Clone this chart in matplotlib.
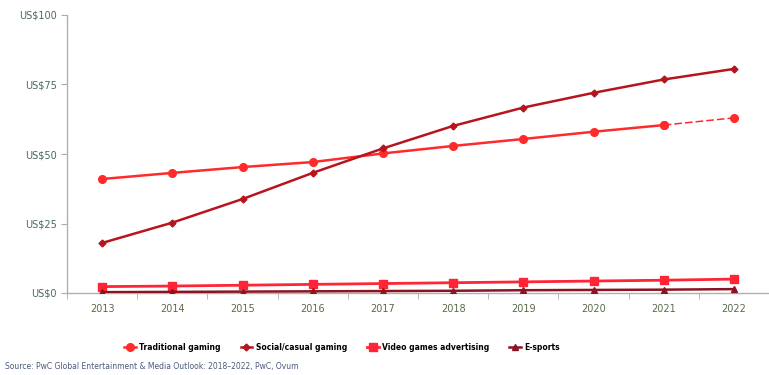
import matplotlib
matplotlib.use("Agg")
import matplotlib.pyplot as plt
import numpy as np

years = ["2013", "2014", "2015", "2016", "2017", "2018", "2019", "2020", "2021", "2022"]
traditional = [41.0, 43.2, 45.3, 47.1, 50.2, 52.9, 55.4, 58.0, 60.4, 63.0]
social_casual = [18.0, 25.3, 33.8, 43.2, 52.0, 60.1, 66.7, 72.0, 76.8, 80.6]
video_ads = [2.3, 2.5, 2.8, 3.1, 3.4, 3.7, 4.0, 4.3, 4.6, 5.0]
esports = [0.3, 0.4, 0.5, 0.6, 0.7, 0.8, 1.0, 1.1, 1.2, 1.4]
y_ticks = [0, 25, 50, 75, 100]
y_labels = ["US$0", "US$25", "US$50", "US$75", "US$100"]
series_names = ["Traditional gaming", "Social/casual gaming", "Video games advertising", "E-sports"]
source = "Source: PwC Global Entertainment & Media Outlook: 2018\u20132022, PwC, Ovum"

fig = plt.figure(figsize=(7.69, 3.75), dpi=100)
ax = fig.add_axes([67/769, 82/375, 1 - 67/769, 278/375])
x = np.arange(len(years))

c_trad = "#ff2a2a"
c_soc = "#b8141e"
c_vid = "#ff2436"
c_esp = "#8c1422"

h1, = ax.plot(x[:-1], traditional[:-1], color=c_trad, lw=1.8, marker="o", ms=5.5, zorder=4)
ax.plot(x[-2:], traditional[-2:], color=c_trad, lw=1.1, ls=(0, (5, 2)), marker="o", ms=5.5, zorder=4)
h2, = ax.plot(x, social_casual, color=c_soc, lw=1.8, marker="D", ms=3.5, zorder=5)
h3, = ax.plot(x, video_ads, color=c_vid, lw=2.0, marker="s", ms=6, zorder=3)
h4, = ax.plot(x, esports, color=c_esp, lw=1.8, marker="^", ms=4.5, zorder=4)

ax.set_xlim(-0.5, 9.44)
ax.set_ylim(0, 100)
ax.set_xticks(x)
ax.set_xticklabels(years)
ax.set_xticks(np.arange(-0.5, 10, 1), minor=True)
ax.set_yticks(y_ticks)
ax.set_yticklabels(y_labels)
ax.tick_params(axis="x", which="major", length=0, labelsize=7, colors="#5a6a4a", pad=8)
ax.tick_params(axis="x", which="minor", length=4, color="#aaaaaa")
ax.tick_params(axis="y", length=4, color="#aaaaaa", labelsize=7, labelcolor="#4a6a5a")
for s in ["top", "right"]:
    ax.spines[s].set_visible(False)
for s in ["left", "bottom"]:
    ax.spines[s].set_color("#b0b0b0")
    ax.spines[s].set_linewidth(1.0)

fig.legend([h1, h2, h3, h4], series_names, loc="center", bbox_to_anchor=(0.445, 0.073),
           ncol=4, frameon=False, handlelength=1.5, handletextpad=0.5, columnspacing=2.6,
           prop={"size": 5.5, "weight": "bold"})
fig.text(5/769, 0.022, source, fontsize=5.5, color="#4a5a7a", ha="left", va="center")

fig.savefig("out.png", dpi=100)
